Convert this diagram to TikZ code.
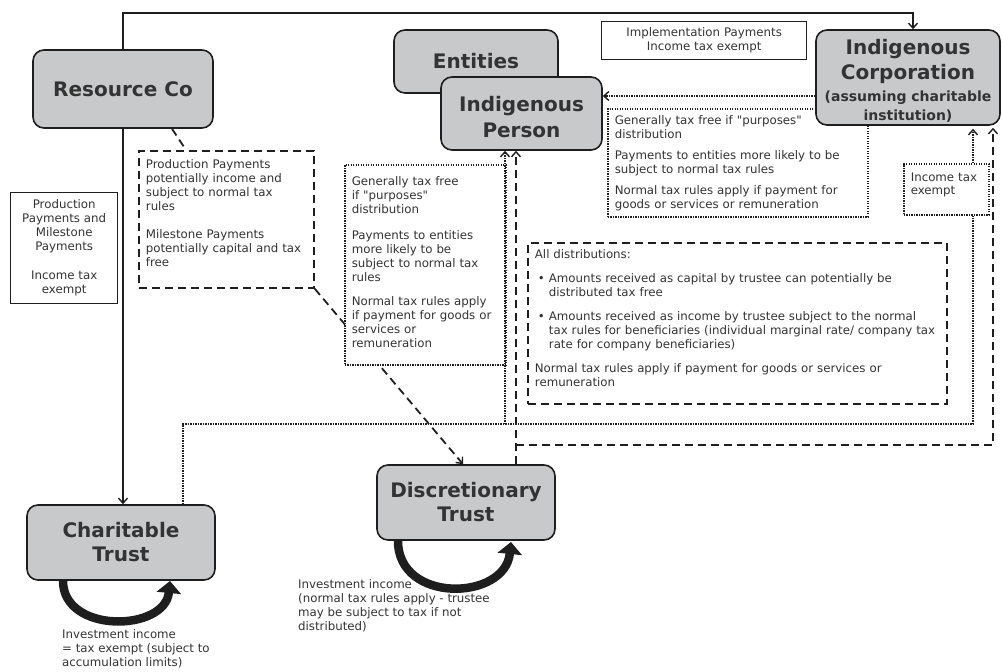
\documentclass[tikz,border=0pt]{standalone}
\usepackage{fontspec}
\setmainfont{DejaVu Sans}[Ligatures=TeXOff]
\usetikzlibrary{arrows.meta,calc}
\definecolor{boxgray}{HTML}{C8C9CB}
\definecolor{edge}{HTML}{1E1E1E}
\definecolor{ink}{HTML}{333333}
\tikzset{
  entity/.style={draw=edge, line width=1.6pt, fill=boxgray, rounded corners=11pt,
    text=ink, align=center, inner sep=0pt, font=\bfseries\fontsize{20}{24}\selectfont},
  note/.style={text=ink, align=left, inner sep=0pt, anchor=north west,
    font=\fontsize{11.8}{14}\selectfont},
  notebox/.style={rectangle, text=ink, anchor=north west, inner ysep=0pt, inner xsep=7pt,
    font=\fontsize{11.8}{14}\selectfont},
  solidline/.style={draw=edge, line width=1.4pt},
  dashline/.style={draw=edge, line width=1.8pt, dash pattern=on 8pt off 5pt},
  dotline/.style={draw=edge, line width=1.6pt, dash pattern=on 1.3pt off 1.2pt},
  tipend/.style={-{Straight Barb[length=5pt,width=9pt,line width=1.4pt]}},
  loop/.style={draw=edge, line width=8.5pt, -{Triangle[length=12pt,width=24pt]}}
}
\begin{document}
\begin{tikzpicture}[x=1pt,y=-1pt]
\useasboundingbox (0,0) rectangle (1002,672);

% main entity nodes
\node[entity, minimum width=180, minimum height=78] (rc) at (123,89) {Resource Co};
\node[entity, minimum width=164, minimum height=63] (ent) at (476,61.5) {Entities};
\node[entity, minimum width=161, minimum height=73] (person) at (521.5,113.5)
  {\rule{0pt}{22pt}Indigenous\\[2pt]Person};
\node[entity, minimum width=188, minimum height=75] (ct) at (121,542.5) {Charitable\\Trust};
\node[entity, minimum width=178, minimum height=75] (dt) at (466,502.5) {Discretionary\\Trust};

% right dotted note box (partly under the corporation)
\node[notebox, dotline, fill=white, minimum width=260, minimum height=108, text width=246, align=left]
  (gtf2) at (607,108)
  {Generally tax free if "purposes"\\distribution\\[7pt]Payments to entities more likely to be\\subject to normal tax rules\\[7pt]Normal tax rules apply if payment for\\goods or services or remuneration};

\node[entity, minimum width=184, minimum height=95] (corp) at (908,77.5)
  {\rule{0pt}{21pt}Indigenous\\[1pt]Corporation\\[-2pt]{\fontsize{14}{17}\selectfont (assuming charitable}\\[-5pt]{\fontsize{14}{17}\selectfont institution)}};

% solid note boxes
\node[notebox, solidline, minimum width=205, minimum height=38, text width=191, align=center]
  (impl) at (601,21) {Implementation Payments\\Income tax exempt};
\node[notebox, solidline, minimum width=107, minimum height=111, text width=93, align=center]
  (pm) at (10,192) {Production\\Payments and\\Milestone\\Payments\\[15pt]Income tax\\exempt};

% dashed note box near Resource Co
\node[notebox, dashline, fill=white, minimum width=175, minimum height=137, text width=161, align=left]
  (prod) at (138,150)
  {Production Payments\\potentially income and\\subject to normal tax\\rules\\[14pt]Milestone Payments\\potentially capital and tax\\free\rule[-13pt]{0pt}{13pt}};

% dashed connectors around the production box (drawn before the white dotted box)
\draw[dashline] (172,0 |- rc.south) -- (186,0 |- prod.north);
\draw[dashline, tipend] (prod.south east) -- ([xshift=-3pt]dt.north);

% left dotted note box
\node[notebox, dotline, fill=white, minimum width=161, minimum height=200, text width=147, align=left]
  (gtf1) at (344,164)
  {Generally tax free\\if "purposes"\\distribution\\[12pt]Payments to entities\\more likely to be\\subject to normal tax\\rules\\[10pt]Normal tax rules apply\\if payment for goods or\\services or\\remuneration\rule[-6pt]{0pt}{6pt}};

% income tax exempt dotted box
\node[notebox, dotline, minimum width=85, minimum height=51, text width=71, align=left]
  (inc) at (903,163) {Income tax\\[-1pt]exempt\rule[-11pt]{0pt}{11pt}};

% all distributions dashed box
\node[notebox, dashline, minimum width=419, minimum height=161, text width=405, align=left]
  (alld) at (527,242)
  {All distributions:\\[10pt]
   \hspace*{3pt}\makebox[11pt][l]{•}Amounts received as capital by trustee can potentially be\\
   \hspace*{14pt}distributed tax free\\[10pt]
   \hspace*{3pt}\makebox[11pt][l]{•}Amounts received as income by trustee subject to the normal\\
   \hspace*{14pt}tax rules for beneficiaries (individual marginal rate/ company tax\\
   \hspace*{14pt}rate for company beneficiaries)\\[10pt]
   Normal tax rules apply if payment for goods or services or\\remuneration\rule[-10pt]{0pt}{10pt}};

% solid connectors
\draw[solidline, tipend] (rc.north) -- (rc.north |- 0,13) -| ([xshift=5pt]corp.north);
\draw[solidline, tipend] (rc.south) -- (rc.south |- ct.north);

% dotted connectors
\draw[dotline, tipend] (corp.west |- 0,96) -- (person.east |- 0,96);
\draw[dotline] (183,0 |- ct.north) -- (183,424) -| (973,0 |- inc.south);
\draw[dotline, tipend] (505,424) -- (505,0 |- person.south);
\draw[dotline, tipend] (973,0 |- inc.north) -- ([yshift=-3pt]973,0 |- corp.south);

% dashed connectors
\draw[dashline, tipend] (516,0 |- dt.north) -- (516,0 |- person.south);
\draw[dashline, tipend] (516,445) -- (993,445) -- ([yshift=-2pt]993,0 |- corp.south);

% self loops
\draw[loop] (63,0 |- ct.south) .. controls (63,634) and (165,632) .. (170,581);
\draw[loop] (398,0 |- dt.south) .. controls (398,604) and (505,601) .. (511,542);

% loop labels
\node[note] (ctl) at (62,629) {Investment income\\= tax exempt (subject to\\accumulation limits)};
\node[note] (dtl) at (298,579) {Investment income\\(normal tax rules apply - trustee\\may be subject to tax if not\\distributed)};
\end{tikzpicture}
\end{document}
